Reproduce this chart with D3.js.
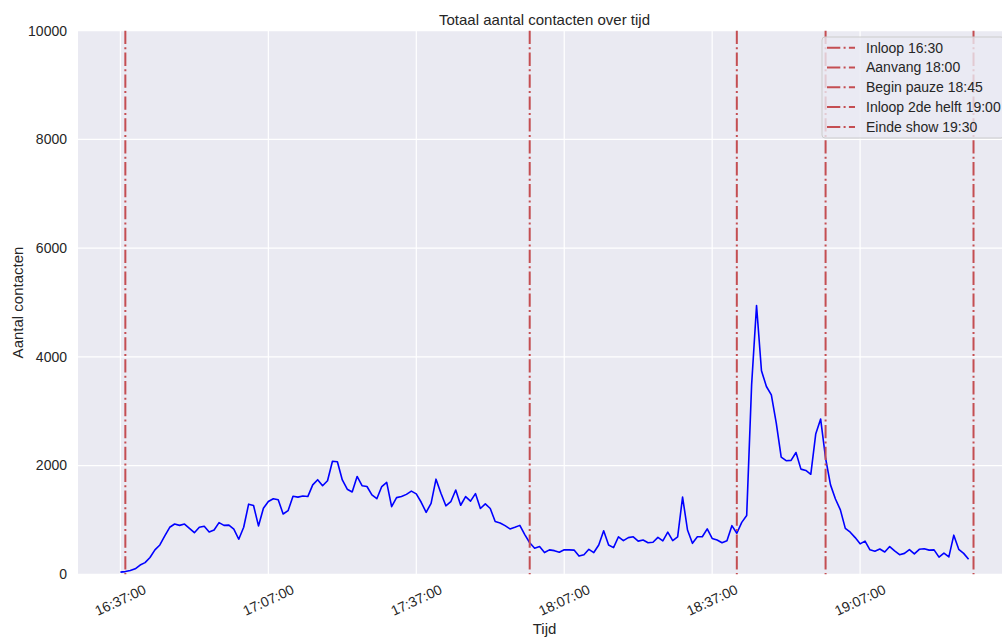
<!DOCTYPE html>
<html>
<head>
<meta charset="utf-8">
<script src="https://cdn.jsdelivr.net/npm/d3@7"></script>
<style>
  body { margin: 0; background: #fff; }
  text { font-family: "Liberation Sans", Arial, sans-serif; fill: #262626; }
</style>
</head>
<body>
<div id="chart"></div>
<script>
// start of the series, one value per minute
var startTime = "16:37";
var contacts = [
  40, 50, 70, 100, 170, 215, 310, 450, 540, 705,
  865, 925, 900, 924, 845, 765, 865, 885, 780, 815,
  950, 900, 905, 830, 645, 865, 1290, 1265, 890, 1215,
  1340, 1390, 1370, 1110, 1170, 1435, 1420, 1440, 1430, 1645,
  1740, 1630, 1720, 2080, 2070, 1735, 1565, 1515, 1800, 1630,
  1615, 1460, 1390, 1615, 1690, 1245, 1410, 1430, 1470, 1530,
  1480, 1325, 1140, 1305, 1750, 1490, 1260, 1335, 1550, 1270,
  1430, 1345, 1485, 1210, 1295, 1210, 970, 945, 895, 835,
  865, 900, 730, 580, 480, 510, 400, 450, 435, 405,
  450, 450, 445, 335, 360, 460, 400, 540, 800, 540,
  490, 690, 620, 675, 690, 610, 630, 580, 590, 680,
  615, 775, 620, 690, 1420, 815, 570, 690, 690, 835,
  660, 630, 580, 615, 895, 755, 955, 1080, 3485, 4945,
  3745, 3455, 3300, 2780, 2155, 2090, 2095, 2240, 1935, 1910,
  1840, 2580, 2855, 2135, 1645, 1385, 1185, 845, 775, 675,
  560, 610, 450, 425, 465, 410, 510, 430, 360, 385,
  455, 375, 460, 470, 445, 450, 315, 390, 320, 720,
  460, 385, 275
];

// vertical markers (drawn positions) and legend labels
var markerTimes = ["16:38", "18:00", "18:42", "19:00", "19:30"];
var markerLabels = ["Inloop 16:30", "Aanvang 18:00", "Begin pauze 18:45", "Inloop 2de helft 19:00", "Einde show 19:30"];

var xTickLabels = ["16:37:00", "17:07:00", "17:37:00", "18:07:00", "18:37:00", "19:07:00"];
var yTicks = [0, 2000, 4000, 6000, 8000, 10000];

var parseTime = d3.timeParse("%H:%M");
var parseTick = d3.timeParse("%H:%M:%S");
var t0 = parseTime(startTime);

var data = contacts.map(function(v, i) {
    return { time: d3.timeMinute.offset(t0, i), value: v };
});

var width = 1002, height = 638;
var margin = { left: 78, top: 30.7, right: 1011, bottom: 574.3 };

var svg = d3.select("#chart").append("svg")
    .attr("width", width)
    .attr("height", height);

// x domain: data extent with 5% padding like matplotlib
var ext = d3.extent(data, function(d) { return d.time; });
var pad = (ext[1] - ext[0]) * 0.05;
var x = d3.scaleTime()
    .domain([new Date(+ext[0] - pad), new Date(+ext[1] + pad)])
    .range([margin.left, margin.right]);

var y = d3.scaleLinear()
    .domain([0, 10000])
    .range([margin.bottom, margin.top]);

svg.append("rect")
    .attr("x", margin.left)
    .attr("y", margin.top)
    .attr("width", margin.right - margin.left)
    .attr("height", margin.bottom - margin.top)
    .attr("fill", "#EAEAF2");

var tickDates = xTickLabels.map(function(s) { return parseTick(s); });

// grid
svg.append("g").selectAll("line")
    .data(yTicks).enter().append("line")
    .attr("x1", margin.left).attr("x2", margin.right)
    .attr("y1", function(d) { return y(d); })
    .attr("y2", function(d) { return y(d); })
    .attr("stroke", "#fff").attr("stroke-width", 1.2);

svg.append("g").selectAll("line")
    .data(tickDates).enter().append("line")
    .attr("x1", function(d) { return x(d); })
    .attr("x2", function(d) { return x(d); })
    .attr("y1", margin.top).attr("y2", margin.bottom)
    .attr("stroke", "#fff").attr("stroke-width", 1.2);

// tick labels
svg.append("g").selectAll("text")
    .data(yTicks).enter().append("text")
    .attr("x", 67)
    .attr("y", function(d) { return y(d); })
    .attr("dy", "0.35em")
    .attr("text-anchor", "end")
    .style("font-size", "14px")
    .text(function(d) { return d; });

svg.append("g").selectAll("text")
    .data(tickDates).enter().append("text")
    .attr("transform", function(d) { return "translate(" + x(d) + ",600) rotate(-25)"; })
    .attr("text-anchor", "middle")
    .attr("dy", "0.35em")
    .style("font-size", "14px")
    .text(function(d, i) { return xTickLabels[i]; });

// data line
var line = d3.line()
    .x(function(d) { return x(d.time); })
    .y(function(d) { return y(d.value); });

svg.append("path")
    .datum(data)
    .attr("d", line)
    .attr("fill", "none")
    .attr("stroke", "#0000ff")
    .attr("stroke-width", 1.6)
    .attr("stroke-linejoin", "round");

// vertical markers
var dashDot = "13.3,3.3,2,3.3";
svg.append("g").selectAll("line")
    .data(markerTimes).enter().append("line")
    .attr("x1", function(d) { return x(parseTime(d)); })
    .attr("x2", function(d) { return x(parseTime(d)); })
    .attr("y1", margin.top).attr("y2", margin.bottom)
    .attr("stroke", "#C44E52")
    .attr("stroke-width", 2)
    .attr("stroke-dasharray", dashDot);

// titles
svg.append("text")
    .attr("x", (margin.left + margin.right) / 2)
    .attr("y", 25)
    .attr("text-anchor", "middle")
    .style("font-size", "15px")
    .text("Totaal aantal contacten over tijd");

svg.append("text")
    .attr("x", (margin.left + margin.right) / 2)
    .attr("y", 634)
    .attr("text-anchor", "middle")
    .style("font-size", "15px")
    .text("Tijd");

svg.append("text")
    .attr("transform", "translate(23," + (margin.top + margin.bottom) / 2 + ") rotate(-90)")
    .attr("text-anchor", "middle")
    .style("font-size", "15px")
    .text("Aantal contacten");

// legend
var legend = svg.append("g").attr("transform", "translate(822,37)");
legend.append("rect")
    .attr("width", 182).attr("height", 101)
    .attr("rx", 3)
    .attr("fill", "#EAEAF2").attr("fill-opacity", 0.8)
    .attr("stroke", "#CCCCCC").attr("stroke-width", 1);

var items = legend.selectAll("g.item")
    .data(markerLabels).enter().append("g")
    .attr("transform", function(d, i) { return "translate(0," + (10.7 + i * 19.8) + ")"; });

items.append("line")
    .attr("x1", 5).attr("x2", 33)
    .attr("stroke", "#C44E52").attr("stroke-width", 2)
    .attr("stroke-dasharray", dashDot);

items.append("text")
    .attr("x", 44)
    .attr("dy", "0.35em")
    .style("font-size", "14px")
    .text(function(d) { return d; });
</script>
</body>
</html>
